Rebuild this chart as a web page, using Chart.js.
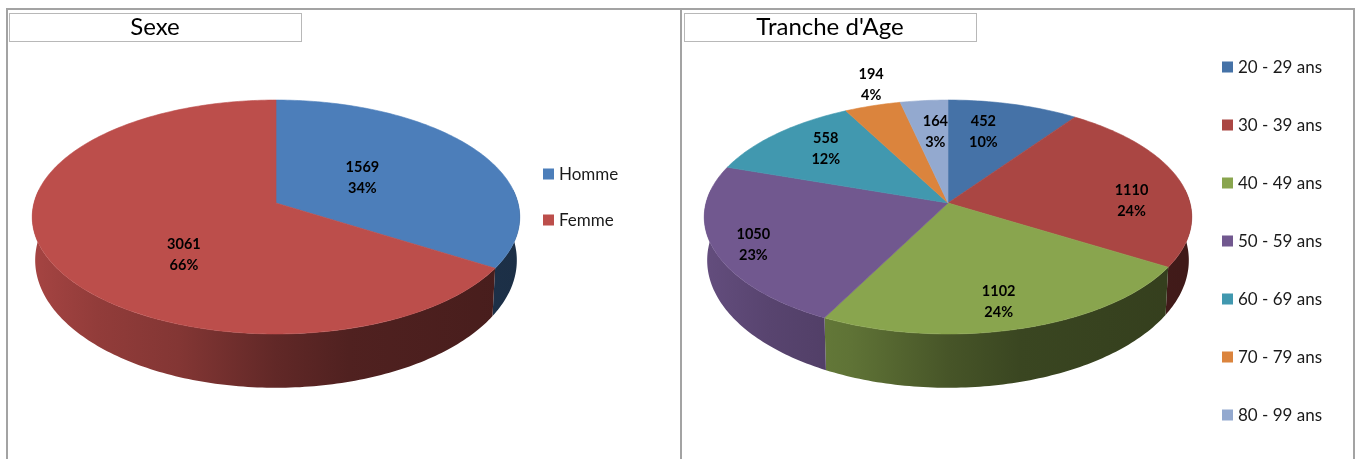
<!DOCTYPE html>
<html><head><meta charset="utf-8">
<script src="https://cdn.jsdelivr.net/npm/chart.js@4"></script>
<style>
html,body{margin:0;padding:0;background:#fff;width:1356px;height:459px;overflow:hidden}
.ln{position:absolute;background:#a3a3a3}
canvas{position:absolute;top:0}
#wrapA,#wrapB{position:absolute;top:0;height:459px}
#wrapA{left:0;width:680px}
#wrapB{left:681px;width:675px}
</style></head><body>
<div class="ln" style="left:6px;top:8px;width:1348px;height:2px"></div>
<div class="ln" style="left:6px;top:8px;width:2px;height:451px"></div>
<div class="ln" style="left:680px;top:8px;width:2px;height:451px"></div>
<div class="ln" style="left:1353px;top:8px;width:2px;height:451px"></div>
<div id="wrapA"><canvas id="a"></canvas></div>
<div id="wrapB"><canvas id="b"></canvas></div>
<script>
const sexCategories = ['Homme', 'Femme'];
const sexValues = [1569, 3061];
const sexPercents = [34, 66];
const sexColors = ['#4C7EBA', '#BC4E4B'];
const ageCategories = ['20 - 29 ans', '30 - 39 ans', '40 - 49 ans', '50 - 59 ans', '60 - 69 ans', '70 - 79 ans', '80 - 99 ans'];
const ageValues = [452, 1110, 1102, 1050, 558, 194, 164];
const agePercents = [10, 24, 24, 23, 12, 4, 3];
const ageColors = ['#4572A7', '#AA4643', '#89A54E', '#71588F', '#4198AF', '#DB843D', '#93A9CF'];

// perspective of the tilted disc
const PERSP = -0.1197, VSCALE = 0.4764, BOTTOM_X = 0.988, BOTTOM_Y = 1.09, DEPTH = 0.1736;
const SHADE = [[0, .88], [.13, .78], [.3, .70], [.5, .52], [.65, .43], [1, .38]];
const VIS_A = -0.1197; // sine of the rim's leftmost/rightmost point

function proj(el, angle, r, bottom) {
  const u = Math.cos(angle) * r, v = Math.sin(angle) * r, w = 1 + PERSP * v, R = el.outerRadius;
  const kx = bottom ? BOTTOM_X : 1, ky = bottom ? BOTTOM_Y : 1;
  return [el.x + kx * R * u / w, el.y + (bottom ? DEPTH * R : 0) + ky * R * VSCALE * v / w];
}
function shade(hex, f) {
  const n = parseInt(hex.slice(1), 16);
  return `rgb(${((n >> 16) & 255) * f | 0},${((n >> 8) & 255) * f | 0},${(n & 255) * f | 0})`;
}
function steps(a, b) {
  const out = [], n = Math.max(2, Math.ceil(Math.abs(b - a) / (Math.PI / 180)));
  for (let i = 0; i <= n; i++) out.push(a + (b - a) * i / n);
  return out;
}
const pie3d = {
  id: 'pie3d',
  beforeDatasetsDraw(chart) {
    const { ctx } = chart, meta = chart.getDatasetMeta(0), colors = chart.data.datasets[0].backgroundColor;
    const lo = Math.asin(VIS_A), hi = Math.PI - lo;
    meta.data.forEach((el, i) => {
      const a = Math.max(el.startAngle, lo), b = Math.min(el.endAngle, hi);
      if (b <= a) return;
      const g = ctx.createLinearGradient(el.x - el.outerRadius, 0, el.x + el.outerRadius, 0);
      SHADE.forEach(([t, f]) => g.addColorStop(t, shade(colors[i], f)));
      ctx.beginPath();
      steps(a, b).forEach((t, k) => { const p = proj(el, t, 1, false); k ? ctx.lineTo(...p) : ctx.moveTo(...p); });
      steps(b, a).forEach(t => ctx.lineTo(...proj(el, t, 1, true)));
      ctx.closePath();
      ctx.fillStyle = g; ctx.fill();
    });
    meta.data.forEach((el, i) => {
      ctx.beginPath();
      ctx.moveTo(el.x, el.y);
      steps(el.startAngle, el.endAngle).forEach(t => ctx.lineTo(...proj(el, t, 1, false)));
      ctx.closePath();
      ctx.fillStyle = colors[i]; ctx.fill();
      ctx.strokeStyle = colors[i]; ctx.lineWidth = .6; ctx.stroke();
    });
    return false;
  },
  afterDraw(chart) {
    const { ctx } = chart, o = chart.options.plugins.pie3d, ds = chart.data.datasets[0], meta = chart.getDatasetMeta(0);
    ctx.save();
    // title box
    ctx.strokeStyle = '#b8b8b8'; ctx.lineWidth = 1;
    ctx.strokeRect(o.titleBox[0] + .5, o.titleBox[1] + .5, o.titleBox[2], o.titleBox[3]);
    ctx.fillStyle = '#000'; ctx.font = '24px Lato'; ctx.textAlign = 'center'; ctx.textBaseline = 'middle';
    ctx.fillText(o.title, o.titleBox[0] + o.titleBox[2] / 2, o.titleBox[1] + o.titleBox[3] / 2);
    // value labels
    ctx.font = 'bold 14.5px Lato';
    meta.data.forEach((el, i) => {
      const mid = (el.startAngle + el.endAngle) / 2 + o.labelTurn[i] * Math.PI / 180;
      const [x, y] = proj(el, mid, o.labelRadius[i], false);
      ctx.fillText(String(ds.data[i]), x + .5, y - 9.5);
      ctx.fillText(o.percents[i] + '%', x + .5, y + 11.5);
    });
    // legend
    ctx.font = '17px Lato'; ctx.textAlign = 'left';
    chart.data.labels.forEach((text, i) => {
      const y = o.legendY + i * o.legendStep;
      ctx.fillStyle = ds.backgroundColor[i]; ctx.fillRect(o.legendX, y - 5.5, 11, 11);
      ctx.fillStyle = '#1a1a1a'; ctx.fillText(text, o.legendX + 16, y + .5);
    });
    ctx.restore();
  }
};
function make(id, w, labels, values, colors, padRight, padBottom, opts) {
  const c = document.getElementById(id); c.width = w; c.height = 459;
  return new Chart(c, {
    type: 'pie',
    data: { labels, datasets: [{ data: values, backgroundColor: colors, borderWidth: 0, radius: 242 }] },
    options: {
      responsive: false, animation: false, events: [],
      layout: { padding: { left: 0, top: 0, right: padRight, bottom: padBottom } },
      plugins: { legend: { display: false }, tooltip: { enabled: false }, pie3d: opts }
    },
    plugins: [pie3d]
  });
}
make('a', 680, sexCategories, sexValues, sexColors, 128, 53, {
  title: 'Sexe', titleBox: [9, 13, 292, 28], percents: sexPercents,
  labelRadius: [.432, .554], labelTurn: [-3.4, -20],
  legendX: 543, legendY: 174, legendStep: 46
});
make('b', 675, ageCategories, ageValues, ageColors, 141, 53, {
  title: "Tranche d'Age", titleBox: [3, 13, 292, 28], percents: agePercents,
  labelRadius: [.693, .759, .794, .845, .739, 1.234, .677],
  labelTurn: [-4.6, 9.8, 2, -1.7, 2.8, 3.1, 1.4],
  legendX: 541, legendY: 67, legendStep: 58
});
</script>
</body></html>
